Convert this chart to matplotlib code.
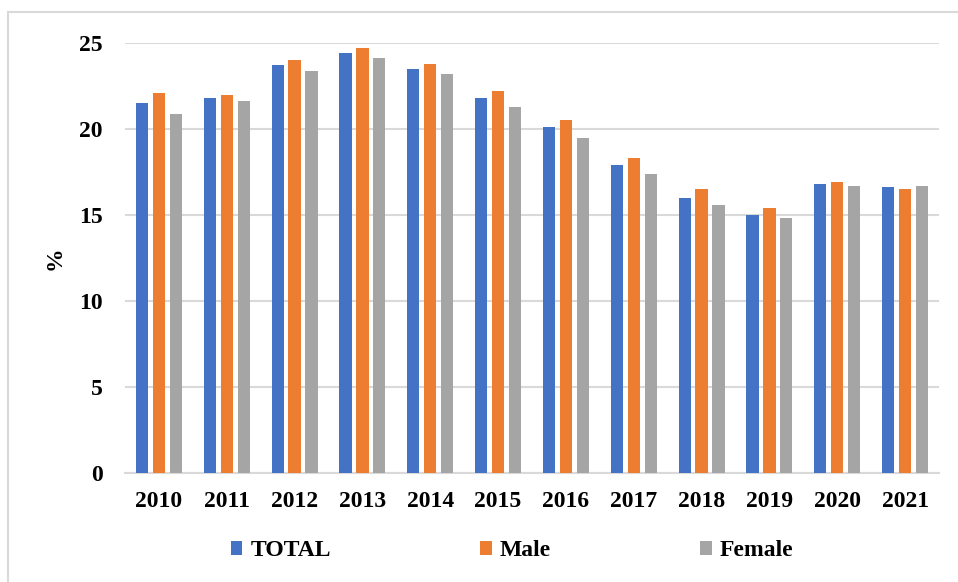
import matplotlib.pyplot as plt
import matplotlib.patches as mpatches
import numpy as np

years = ["2010", "2011", "2012", "2013", "2014", "2015",
         "2016", "2017", "2018", "2019", "2020", "2021"]
total = [21.5, 21.8, 23.7, 24.4, 23.5, 21.8, 20.1, 17.9, 16.0, 15.0, 16.8, 16.6]
male = [22.1, 22.0, 24.0, 24.7, 23.8, 22.2, 20.5, 18.3, 16.5, 15.4, 16.9, 16.5]
female = [20.9, 21.6, 23.4, 24.1, 23.2, 21.3, 19.5, 17.4, 15.6, 14.8, 16.7, 16.7]

blue = "#4472C4"
orange = "#ED7D31"
gray = "#A5A5A5"
grid = "#D9D9D9"

plt.rcParams["font.family"] = ["Liberation Serif", "DejaVu Serif"]
plt.rcParams["font.weight"] = "bold"

fig = plt.figure(figsize=(9.58, 5.82), dpi=100)
ax = fig.add_axes([125 / 958, 1 - 473 / 582, (939 - 125) / 958, (473 - 43) / 582])

x = np.arange(len(years))
w = 0.18
off = 0.25
ax.bar(x - off, total, w, color=blue, label="TOTAL", zorder=3)
ax.bar(x, male, w, color=orange, label="Male", zorder=3)
ax.bar(x + off, female, w, color=gray, label="Female", zorder=3)

ax.set_xlim(-0.5, len(years) - 0.5)
ax.set_ylim(0, 25)
ax.set_yticks([0, 5, 10, 15, 20, 25])
ax.set_xticks(x)
ax.set_xticklabels(years)
ax.yaxis.grid(True, color=grid, linewidth=1.5, zorder=0)
for s in ["top", "right", "left"]:
    ax.spines[s].set_visible(False)
ax.spines["bottom"].set_color(grid)
ax.spines["bottom"].set_linewidth(1.5)
ax.tick_params(axis="both", length=0, labelsize=17)
ax.tick_params(axis="y", pad=16)
ax.tick_params(axis="x", pad=13)
ax.set_ylabel("%", fontsize=17, fontweight="bold", labelpad=10)

fig.legend(loc="center", bbox_to_anchor=(512 / 958, 1 - 551 / 582), ncol=3,
           frameon=False, fontsize=17, handlelength=0.5, handleheight=0.5,
           handletextpad=0.35, columnspacing=6.3)

border = mpatches.Rectangle((8 / 958, -0.01), 1.0, 1 - 12 / 582 + 0.01,
                            transform=fig.transFigure, fill=False,
                            edgecolor=grid, linewidth=1.5)
fig.patches.append(border)

fig.savefig("out.png", dpi=100)
